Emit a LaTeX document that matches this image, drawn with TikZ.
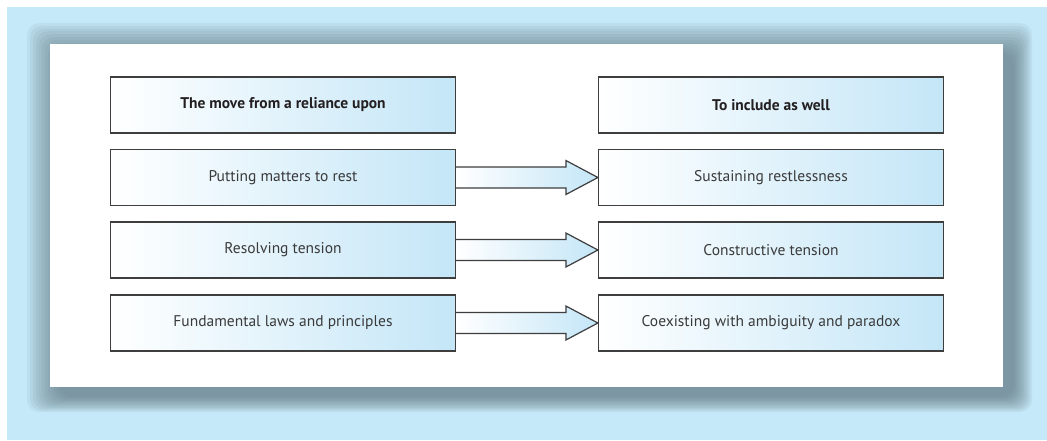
\documentclass[tikz,border=0pt]{standalone}
\usepackage{fontspec}
\setmainfont{PT Sans}
\usetikzlibrary{calc}
\definecolor{bgblue}{HTML}{C6E9F9}
\definecolor{shadowgrey}{HTML}{5E757F}
\definecolor{boxline}{HTML}{3E3E3E}
\definecolor{boxblue}{HTML}{C4E6F7}
\definecolor{textgrey}{HTML}{3A3A3A}
\definecolor{headtext}{HTML}{231F20}
\tikzset{
  cell/.style={draw=boxline, line width=1.2pt, left color=white, right color=boxblue,
    minimum width=345pt, minimum height=56pt, inner sep=0pt, text=textgrey,
    font=\fontsize{15.5}{18}\selectfont},
  headcell/.style={cell, text=headtext, font=\fontsize{15.5}{18}\selectfont\bfseries},
  movearrow/.style={draw=boxline, line width=1.2pt, left color=white, right color=boxblue}
}
\begin{document}
\begin{tikzpicture}[x=1pt,y=-1pt]
\useasboundingbox (0,0) rectangle (1047,440);
\fill[white] (0,0) rectangle (1047,440);
\fill[bgblue] (7,7) rectangle (1047,440);
% soft shadow behind the panel
\foreach \i in {0,...,11}
  \fill[shadowgrey, opacity=0.09, rounded corners=12pt]
    (27+3*\i,23+2.8*\i) rectangle (1032-1.7*\i,412-1.4*\i);
\fill[white] (50,44) rectangle (1003,387);
% columns
\node[headcell] (lhead) at (283,105) {The move from a reliance upon};
\node[cell] (l1) at (283,177.5) {Putting matters to rest};
\node[cell] (l2) at (283,250) {Resolving tension};
\node[cell] (l3) at (283,323) {Fundamental laws and principles};
\node[headcell] (rhead) at (771,105) {To include as well};
\node[cell] (r1) at (771,177.5) {Sustaining restlessness};
\node[cell] (r2) at (771,250) {Constructive tension};
\node[cell] (r3) at (771,323) {Coexisting with ambiguity and paradox};
% block arrows
\foreach \n in {1,2,3}
  \draw[movearrow] ($(l\n.east)+(0,-10.5)$) -- ($(r\n.west)+(-32,-10.5)$) -- ($(r\n.west)+(-32,-17)$)
    -- (r\n.west) -- ($(r\n.west)+(-32,17)$) -- ($(r\n.west)+(-32,10.5)$) -- ($(l\n.east)+(0,10.5)$);
\end{tikzpicture}
\end{document}
